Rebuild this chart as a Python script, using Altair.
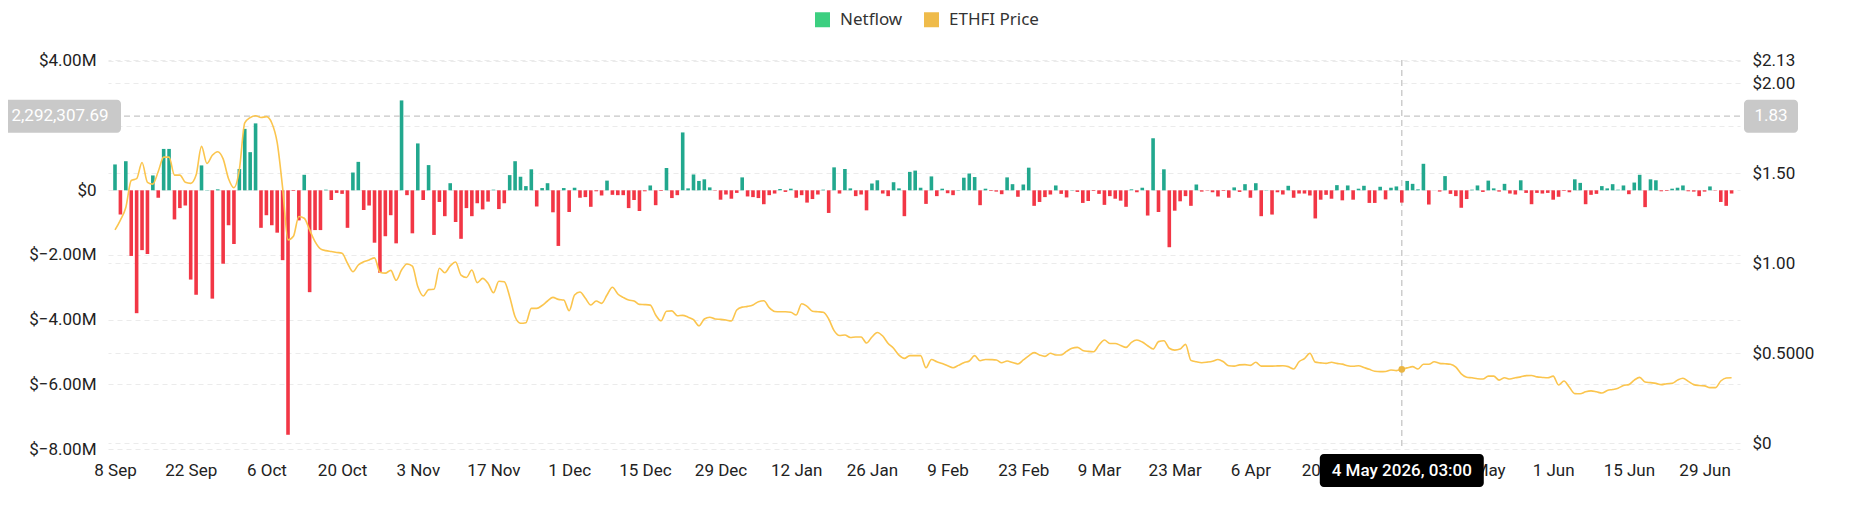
import altair as alt
import pandas as pd

# ---------------- data ----------------
start_date = "2025-09-08"

# daily netflow, in millions of USD
netflow_m = [
    0.80, -0.75, 0.90, -2.03, -3.80, -1.85, -1.97, 0.46, -0.23, 1.28,
    1.28, -0.90, -0.55, -0.47, -2.76, -3.23, 0.77, 0.01, -3.35, 0.03,
    -2.27, -1.08, -1.66, 0.66, 1.90, 1.18, 2.07, -1.16, -0.77, -1.08,
    -1.31, -2.16, -7.56, -0.02, -0.93, 0.48, -3.15, -1.23, -1.23, 0.02,
    -0.30, -0.08, -0.11, -1.16, 0.55, 0.88, -0.61, -0.47, -1.62, -2.55,
    -1.42, -0.77, -1.64, 2.78, -0.15, -1.33, 1.45, -0.30, 0.78, -1.38,
    -0.36, -0.80, 0.22, -0.98, -1.50, -0.55, -0.80, -0.40, -0.59, -0.35,
    0.02, -0.58, -0.40, 0.47, 0.90, 0.42, 0.13, 0.65, -0.50, 0.07,
    0.22, -0.68, -1.72, 0.07, -0.67, 0.08, -0.23, -0.21, -0.51, -0.03,
    -0.16, 0.30, -0.14, -0.15, -0.15, -0.55, -0.30, -0.64, -0.03, 0.15,
    -0.46, -0.02, 0.69, -0.24, -0.15, 1.79, 0.06, 0.49, 0.29, 0.34,
    0.09, -0.01, -0.29, -0.13, -0.26, -0.08, 0.40, -0.19, -0.21, -0.24,
    -0.43, -0.15, -0.10, 0.04, -0.05, 0.05, -0.23, -0.15, -0.38, -0.27,
    -0.13, 0.02, -0.70, 0.71, -0.10, 0.66, 0.06, -0.18, -0.13, -0.62,
    0.21, 0.31, -0.10, -0.18, 0.25, 0.06, -0.80, 0.57, 0.61, 0.08,
    -0.42, 0.43, -0.18, 0.05, -0.09, -0.15, 0.01, 0.39, 0.52, 0.41,
    -0.46, 0.05, -0.02, -0.04, -0.12, 0.40, 0.19, -0.20, 0.18, 0.70,
    -0.48, -0.36, -0.21, -0.13, 0.15, -0.11, -0.22, 0.01, -0.05, -0.39,
    -0.33, -0.02, -0.11, -0.45, -0.18, -0.26, -0.32, -0.51, 0.03, -0.06,
    0.08, -0.78, 1.61, -0.67, 0.65, -1.76, -0.63, -0.34, -0.18, -0.48,
    0.18, -0.04, -0.01, -0.06, -0.19, -0.02, -0.23, 0.09, -0.05, 0.19,
    -0.23, 0.22, -0.80, 0.01, -0.75, -0.06, -0.13, 0.14, -0.23, -0.10,
    -0.10, -0.16, -0.87, -0.29, -0.14, -0.26, 0.16, -0.31, 0.15, -0.29,
    0.05, 0.14, -0.39, -0.39, 0.11, -0.28, 0.08, 0.12, -0.38, 0.29,
    0.20, 0.03, 0.82, -0.44, 0.00, -0.04, 0.44, -0.11, -0.18, -0.54,
    -0.27, 0.02, 0.15, -0.05, 0.30, 0.06, -0.04, 0.20, -0.10, -0.13,
    0.31, -0.08, -0.43, -0.08, -0.10, -0.08, -0.29, -0.20, -0.02, -0.06,
    0.34, 0.23, -0.43, -0.14, -0.11, 0.13, 0.06, 0.19, 0.02, 0.15,
    -0.12, 0.24, 0.48, -0.52, 0.34, 0.31, -0.03, -0.02, 0.05, 0.08,
    0.15, -0.03, -0.04, -0.18, -0.04, 0.12, -0.01, -0.36, -0.48, -0.10,
]

# daily ETHFI price, USD
price_usd = [
    1.185, 1.24, 1.31, 1.46, 1.47, 1.56, 1.45, 1.44, 1.51, 1.59,
    1.59, 1.49, 1.49, 1.45, 1.444, 1.49, 1.65, 1.555, 1.60, 1.62,
    1.58, 1.47, 1.42, 1.52, 1.78, 1.81, 1.82, 1.81, 1.815, 1.78,
    1.67, 1.42, 1.13, 1.15, 1.26, 1.25, 1.185, 1.12, 1.08, 1.07,
    1.065, 1.06, 1.055, 1.00, 0.953, 0.99, 1.008, 1.018, 1.03, 0.95,
    0.945, 0.96, 0.905, 0.962, 0.996, 0.984, 0.87, 0.818, 0.853, 0.855,
    0.972, 0.947, 0.985, 1.007, 0.934, 0.921, 0.962, 0.892, 0.916, 0.888,
    0.836, 0.90, 0.897, 0.814, 0.702, 0.666, 0.669, 0.749, 0.749, 0.765,
    0.79, 0.81, 0.799, 0.795, 0.736, 0.823, 0.84, 0.805, 0.768, 0.79,
    0.777, 0.823, 0.866, 0.829, 0.81, 0.795, 0.79, 0.771, 0.77, 0.767,
    0.712, 0.68, 0.733, 0.735, 0.708, 0.71, 0.70, 0.686, 0.652, 0.69,
    0.70, 0.69, 0.688, 0.684, 0.679, 0.74, 0.756, 0.76, 0.768, 0.786,
    0.791, 0.753, 0.732, 0.730, 0.730, 0.727, 0.712, 0.775, 0.76, 0.733,
    0.730, 0.727, 0.69, 0.625, 0.598, 0.601, 0.587, 0.59, 0.59, 0.556,
    0.59, 0.615, 0.595, 0.554, 0.527, 0.489, 0.471, 0.486, 0.486, 0.486,
    0.419, 0.465, 0.452, 0.442, 0.43, 0.419, 0.432, 0.447, 0.456, 0.486,
    0.458, 0.465, 0.464, 0.462, 0.447, 0.456, 0.448, 0.44, 0.462, 0.485,
    0.503, 0.49, 0.482, 0.499, 0.49, 0.49, 0.51, 0.527, 0.532, 0.515,
    0.51, 0.508, 0.545, 0.573, 0.554, 0.554, 0.543, 0.532, 0.56, 0.573,
    0.562, 0.541, 0.523, 0.564, 0.569, 0.527, 0.517, 0.523, 0.549, 0.46,
    0.452, 0.447, 0.45, 0.455, 0.465, 0.452, 0.43, 0.428, 0.435, 0.436,
    0.432, 0.449, 0.428, 0.428, 0.428, 0.429, 0.43, 0.425, 0.412, 0.452,
    0.47, 0.499, 0.45, 0.446, 0.443, 0.449, 0.443, 0.439, 0.43, 0.427,
    0.43, 0.42, 0.41, 0.399, 0.397, 0.398, 0.406, 0.403, 0.41, 0.418,
    0.425, 0.412, 0.438, 0.438, 0.452, 0.443, 0.441, 0.438, 0.422, 0.385,
    0.366, 0.363, 0.358, 0.356, 0.372, 0.372, 0.35, 0.363, 0.356, 0.363,
    0.368, 0.375, 0.376, 0.368, 0.365, 0.363, 0.372, 0.323, 0.345, 0.31,
    0.275, 0.274, 0.285, 0.29, 0.285, 0.278, 0.292, 0.298, 0.305, 0.32,
    0.325, 0.35, 0.365, 0.34, 0.336, 0.332, 0.325, 0.33, 0.332, 0.35,
    0.36, 0.343, 0.325, 0.32, 0.318, 0.308, 0.308, 0.345, 0.362, 0.363,
]

x_tick_dates = [
    "2025-09-08", "2025-09-22", "2025-10-06", "2025-10-20", "2025-11-03",
    "2025-11-17", "2025-12-01", "2025-12-15", "2025-12-29", "2026-01-12",
    "2026-01-26", "2026-02-09", "2026-02-23", "2026-03-09", "2026-03-23",
    "2026-04-06", "2026-04-20", "2026-05-04", "2026-05-18", "2026-06-01",
    "2026-06-15", "2026-06-29",
]
left_ticks = [-8, -6, -4, -2, 0, 2, 4]
right_ticks = [0, 0.5, 1, 1.5, 2, 2.13]

cross_date = "2026-05-04"
cross_label = "4 May 2026, 03:00"
cross_netflow_usd = 2292307.69
cross_price_label = "1.83"

series_names = ["Netflow", "ETHFI Price"]

# ---------------- styling ----------------
W, H = 1632, 389
GREEN = "#22a88e"
RED = "#f23645"
YELLOW = "#fbc54e"
LEG_GREEN = "#3ccf80"
LEG_YELLOW = "#efbb4a"
GRID = "#ebebeb"
CROSS = "#c6c6c6"
FONT = "Roboto"

dates = pd.date_range(start_date, periods=len(netflow_m), freq="D").strftime("%Y-%m-%d")
df = pd.DataFrame({"date": dates, "netflow": netflow_m, "price": price_usd})

cross_idx = list(dates).index(cross_date)
cross_m = cross_netflow_usd / 1e6
cross_df = pd.DataFrame({
    "date": [cross_date],
    "netflow": [cross_m],
    "price": [price_usd[cross_idx]],
})
legend_df = pd.DataFrame({"series": series_names})


def dt(s, hours=0, minutes=0):
    y, m, d = (int(v) for v in s.split("-"))
    return alt.DateTime(year=y, month=m, date=d, hours=hours, minutes=minutes, utc=True)


x_scale = alt.Scale(type="utc", domain=[dt("2025-09-07", 15, 7), dt("2026-07-04", 15, 7)])
x_axis = alt.Axis(
    values=[dt(s) for s in x_tick_dates],
    labelExpr="utcFormat(datum.value, '%-d %b')",
    title=None, ticks=False, domain=False, grid=False, labelOverlap=False,
    labelFont=FONT, labelFontSize=17, labelColor="#222", labelPadding=13,
)
x_enc = alt.X("date:T", scale=x_scale, axis=x_axis)

left_axis = alt.Axis(
    orient="left", values=left_ticks, title=None, ticks=False, domain=False,
    grid=True, gridColor=GRID, gridDash=[5, 4], gridWidth=1,
    labelFont=FONT, labelFontSize=17, labelColor="#222", labelPadding=12,
    labelExpr="datum.value == 0 ? '$0' : (datum.value == 2 ? '' : '$' + format(datum.value, '.2f') + 'M')",
)
right_axis = alt.Axis(
    orient="right", values=right_ticks, title=None, ticks=False, domain=False,
    grid=True, gridColor=GRID, gridDash=[5, 4], gridWidth=1,
    labelFont=FONT, labelFontSize=17, labelColor="#222", labelPadding=12,
    labelOverlap=False,
    labelExpr="datum.value == 0 ? '$0' : (datum.value == 0.5 ? '$0.5000' : '$' + format(datum.value, '.2f'))",
)
left_scale = alt.Scale(domain=[-8, 4.03], nice=False, zero=False)
right_scale = alt.Scale(domain=[-0.033, 2.13], nice=False, zero=False)
yl = alt.Y("netflow:Q", scale=left_scale, axis=left_axis)
yr = alt.Y("price:Q", scale=right_scale, axis=right_axis)

base = alt.Chart(df)

bars = base.mark_bar(width=3.6).encode(
    x=x_enc,
    y=yl,
    y2=alt.datum(0),
    color=alt.when(alt.datum.netflow >= 0).then(alt.value(GREEN)).otherwise(alt.value(RED)),
)

hrule = alt.Chart(cross_df).mark_rule(color=CROSS, strokeDash=[6, 4], strokeWidth=1.3).encode(y=yl)
vrule = alt.Chart(cross_df).mark_rule(color=CROSS, strokeDash=[6, 4], strokeWidth=1.3).encode(x=x_enc)

box_half = 0.51  # half box height in M units (~16.5 px)
lbox = alt.Chart(cross_df).mark_rect(color="#c9c9c9", cornerRadius=4).encode(
    x=alt.value(-110), x2=alt.value(13),
    y=alt.datum(cross_m + box_half), y2=alt.datum(cross_m - box_half),
)
ltext = alt.Chart(cross_df).mark_text(
    text=f"{cross_netflow_usd:,.2f}", color="white", font=FONT, fontSize=17,
    align="center", baseline="middle",
).encode(x=alt.value(-48), y=alt.datum(cross_m))
rbox = alt.Chart(cross_df).mark_rect(color="#c9c9c9", cornerRadius=4).encode(
    x=alt.value(W + 4), x2=alt.value(W + 58),
    y=alt.datum(cross_m + box_half), y2=alt.datum(cross_m - box_half),
)
rtext = alt.Chart(cross_df).mark_text(
    text=cross_price_label, color="white", font=FONT, fontSize=17,
    align="center", baseline="middle",
).encode(x=alt.value(W + 31), y=alt.datum(cross_m))

tipbox = alt.Chart(cross_df).mark_rect(color="#000000", cornerRadius=4, xOffset=-82, x2Offset=82).encode(
    x=x_enc, x2="date:T", y=alt.value(H + 5), y2=alt.value(H + 38),
)
tiptext = alt.Chart(cross_df).mark_text(
    text=cross_label, color="white", font=FONT, fontSize=17, fontWeight=500,
    align="center", baseline="middle",
).encode(x=x_enc, y=alt.value(H + 22))

legend_layer = alt.Chart(legend_df).mark_square(opacity=0).encode(
    x=alt.value(0), y=alt.value(0),
    color=alt.Color(
        "series:N",
        scale=alt.Scale(domain=series_names, range=[LEG_GREEN, LEG_YELLOW]),
        legend=alt.Legend(
            title=None, orient="none", legendX=706, legendY=-49, direction="horizontal",
            columns=2, symbolType="square", symbolSize=225, symbolOpacity=1,
            symbolStrokeWidth=0, labelFont="Noto Sans", labelFontSize=17,
            labelColor="#333", labelOffset=9, columnPadding=20, padding=0,
        ),
    ),
)

line = base.mark_line(color=YELLOW, strokeWidth=1.6, interpolate="monotone").encode(x=x_enc, y=yr)
dot = alt.Chart(cross_df).mark_circle(size=45, color="#eab543", opacity=1).encode(x=x_enc, y=yr)

left_group = alt.layer(vrule, bars, hrule, lbox, ltext, rbox, rtext, legend_layer)
right_group = alt.layer(line, dot, tipbox, tiptext)

chart = alt.layer(left_group, right_group).resolve_scale(y="independent").properties(
    width=W, height=H,
    autosize=alt.AutoSizeParams(type="none"),
    padding={"left": 100, "top": 52, "right": 104, "bottom": 68},
).configure_view(stroke=None)

chart.save("out.html", embed_options={"renderer": "svg", "actions": False})
